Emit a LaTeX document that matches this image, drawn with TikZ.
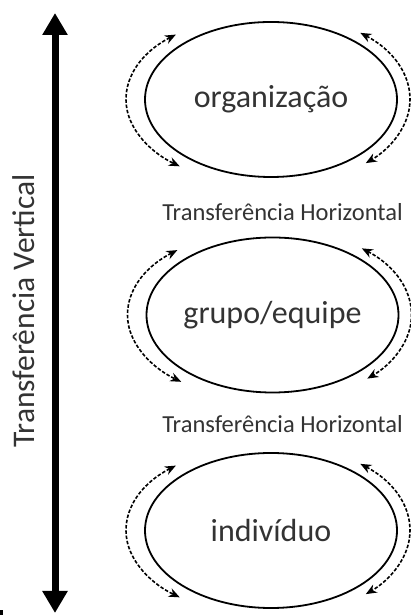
\documentclass[tikz,border=0pt]{standalone}
\usepackage{fontspec}
\setmainfont{Carlito}
\usetikzlibrary{arrows.meta,calc,shapes.geometric}

\begin{document}
\begin{tikzpicture}[x=1pt, y=1pt,
		level/.style={draw, ellipse, line width=1.8pt, minimum width=252pt, minimum height=155pt, inner sep=0pt,
			text=black!80, font=\fontsize{32}{38}\selectfont},
		hlabel/.style={anchor=base, text=black!80, inner sep=0pt, font=\fontsize{24.5}{29}\selectfont},
		hflow/.style={line width=1.6pt, dash pattern=on 3.5pt off 1.8pt, {Stealth[length=11pt,width=9pt]}-{Stealth[length=11pt,width=9pt]}},
		vflow/.style={line width=7pt, {Triangle[length=22pt,width=24pt]}-{Triangle[length=22pt,width=24pt]}}]
		\useasboundingbox (0,0) rectangle (411,615);

		\node[level] (org) at (271,515.5) {organização};
		\node[level] (grp) at (272.5,300) {grupo/equipe};
		\node[level] (ind) at (271,84.5) {indivíduo};

		\node[hlabel] (h1) at (282.5,394.5) {Transferência Horizontal};
		\node[hlabel] (h2) at (282.5,182) {Transferência Horizontal};

		% vertical transfer
		\coordinate (vtop) at (55,602);
		\coordinate (vbot) at (55,2);
		\draw[vflow] (vbot) -- (vtop);
		\node[rotate=90, anchor=base, inner sep=0pt, text=black!80, font=\fontsize{31.5}{38}\selectfont] (vlabel) at (35,304) {Transferência Vertical};
		\fill (0,0) rectangle (3,5);

		% horizontal transfer round each level
		\draw[hflow] ($(org.center)+(131:145 and 86)$) arc[start angle=131, end angle=231, x radius=145, y radius=86];
		\draw[hflow] ($(org.center)+(50:139 and 87)$) arc[start angle=50, end angle=-47, x radius=139, y radius=87];
		\draw[hflow] ($(grp.center)+(131:145 and 86)$) arc[start angle=131, end angle=231, x radius=145, y radius=86];
		\draw[hflow] ($(grp.center)+(50:139 and 87)$) arc[start angle=50, end angle=-47, x radius=139, y radius=87];
		\draw[hflow] ($(ind.center)+(131:145 and 86)$) arc[start angle=131, end angle=231, x radius=145, y radius=86];
		\draw[hflow] ($(ind.center)+(50:139 and 87)$) arc[start angle=50, end angle=-47, x radius=139, y radius=87];
	\end{tikzpicture}
\end{document}
